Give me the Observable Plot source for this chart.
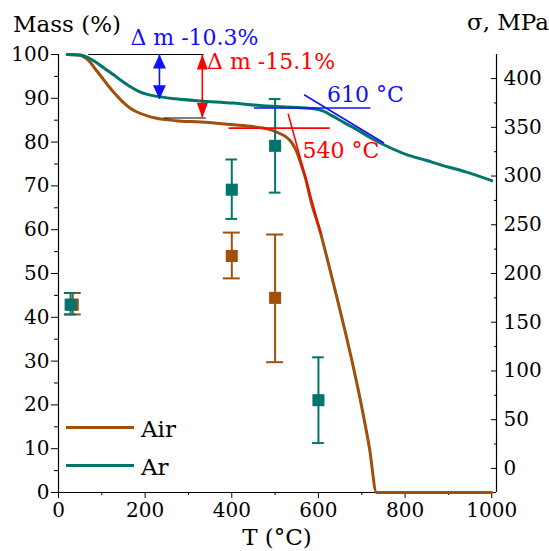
<!DOCTYPE html>
<html><head><meta charset="utf-8">
<script src="https://cdn.jsdelivr.net/npm/d3@7"></script>
<script src="https://cdn.jsdelivr.net/npm/@observablehq/plot@0.6"></script>
<style>
body{margin:0;background:#fff;}
#wrap{position:relative;width:549px;height:551px;font-family:"DejaVu Serif","Liberation Serif",serif;color:#000;}
.lab{position:absolute;line-height:1;white-space:nowrap;}
.sw{position:absolute;width:68px;height:3px;}
</style></head><body><div id="wrap"></div>
<script>
// ---- data ----
const airT    = [20, 45, 55, 70, 85, 100, 110, 128, 147, 165, 185, 205, 224, 270, 328, 390, 443, 490, 510, 525, 536, 548, 559, 570, 582, 605, 625, 644, 663, 682, 700, 718, 734, 1000];
const airMass = [100, 99.9, 99.6, 98.6, 96.7, 94.8, 93.5, 91.3, 89.3, 87.8, 86.7, 86.0, 85.5, 84.9, 84.6, 84.1, 83.6, 82.8, 82.0, 81.2, 80.2, 78.2, 75.2, 71.8, 66.8, 59.2, 51.5, 44.0, 36.2, 28.0, 19.5, 10.0, 0, 0];
const arT     = [20, 50, 70, 90, 108, 128, 147, 165, 185, 205, 224, 270, 328, 404, 436, 505, 550, 590, 613, 630, 660, 690, 720, 751, 805, 850, 882, 940, 1000];
const arMass  = [100, 99.9, 99.2, 98.0, 96.7, 95.3, 93.9, 92.7, 91.6, 90.9, 90.5, 89.9, 89.4, 88.9, 88.6, 88.1, 87.9, 87.6, 87.0, 86.1, 84.4, 82.8, 81.0, 79.4, 77.1, 75.8, 74.8, 73.2, 71.2];

// strength (sigma, MPa) with error bars
const airSigT  = [33, 400, 500];
const airSig   = [168, 218, 175];
const airSigLo = [158, 195, 109];
const airSigHi = [180, 242, 240];
const arSigT   = [28, 400, 500, 600];
const arSig    = [168, 286, 331, 70];
const arSigLo  = [158, 256, 283, 26];
const arSigHi  = [180, 317, 379, 114];

// tick values
const xMajor = [0, 200, 400, 600, 800, 1000];
const xMinor = [100, 300, 500, 700, 900];
const yMajor = [0, 10, 20, 30, 40, 50, 60, 70, 80, 90, 100];
const yMinor = [5, 15, 25, 35, 45, 55, 65, 75, 85, 95];
const sMajor = [0, 50, 100, 150, 200, 250, 300, 350, 400];
const sMinor = [25, 75, 125, 175, 225, 275, 325, 375];

// annotations (T, mass)
const blackLines = [{T1: 69, m1: 100, T2: 335, m2: 100}, {T1: 243, m1: 85.5, T2: 340, m2: 85.5}];
const redLines   = [{T1: 393, m1: 83.2, T2: 626, m2: 83.2}, {T1: 530, m1: 86.5, T2: 606, m2: 59.0}];
const blueLines  = [{T1: 451, m1: 87.8, T2: 720, m2: 87.8}, {T1: 567, m1: 90.8, T2: 751, m2: 79.8}];
const blueArrow  = {T: 233, top: 100, bottom: 89.8};
const redArrow   = {T: 332, top: 100, bottom: 85.5};
const blueTexts  = [{T: 166, m: 103.8, text: "Δ m -10.3%"}, {T: 620, m: 90.8, text: "610 °C"}];
const redTexts   = [{T: 343, m: 98.3, text: "Δ m -15.1%"}, {T: 563, m: 78.0, text: "540 °C"}];

// mapping between right axis (sigma) and left axis (mass)
const sigmaAt0 = 5.5, sigmaScale = 0.2225;
const toMass = s => sigmaAt0 + s * sigmaScale;
const fromMass = m => (m - sigmaAt0) / sigmaScale;

const airColor = "#a0500a", arColor = "#00766a", red = "#ff0000", blue = "#1010ff";
const xDomain = [0, 1011];
const FONT = "'DejaVu Serif', 'Liberation Serif', serif";

const airData = airT.map((T, i) => ({T, mass: airMass[i]}));
const arData = arT.map((T, i) => ({T, mass: arMass[i]}));
const airErr = airSigT.map((T, i) => ({T, s: airSig[i], lo: airSigLo[i], hi: airSigHi[i]}));
const arErr = arSigT.map((T, i) => ({T, s: arSig[i], lo: arSigLo[i], hi: arSigHi[i]}));

const triUp = {draw(ctx) { ctx.moveTo(0, 0); ctx.lineTo(6.5, 14); ctx.lineTo(-6.5, 14); ctx.closePath(); }};
const triDown = {draw(ctx) { ctx.moveTo(0, 0); ctx.lineTo(6.5, -14); ctx.lineTo(-6.5, -14); ctx.closePath(); }};
const triUpS = {draw(ctx) { ctx.moveTo(0, 0); ctx.lineTo(5.5, 15); ctx.lineTo(-5.5, 15); ctx.closePath(); }};
const triDownS = {draw(ctx) { ctx.moveTo(0, 0); ctx.lineTo(5.5, -15); ctx.lineTo(-5.5, -15); ctx.closePath(); }};

function errMarks(data, color, capT) {
  return [
    Plot.ruleX(data, {x: "T", y1: d => toMass(d.lo), y2: d => toMass(d.hi), stroke: color, strokeWidth: 2}),
    Plot.ruleY(data, {y: d => toMass(d.lo), x1: d => d.T - capT, x2: d => d.T + capT, stroke: color, strokeWidth: 2}),
    Plot.ruleY(data, {y: d => toMass(d.hi), x1: d => d.T - capT, x2: d => d.T + capT, stroke: color, strokeWidth: 2}),
    Plot.dot(data, {x: "T", y: d => toMass(d.s), symbol: "square", r: 6.8, fill: color, stroke: "none"})
  ];
}

const chart = Plot.plot({
  width: 549, height: 551,
  marginLeft: 58, marginRight: 53, marginTop: 54, marginBottom: 59,
  x: {domain: xDomain},
  y: {domain: [0, 100]},
  style: {fontFamily: FONT, fontSize: "20px", color: "#000", background: "transparent", overflow: "visible"},
  marks: [
    Plot.axisX(xMajor, {anchor: "bottom", tickSize: 6, tickPadding: 4, fontSize: 20, fontFamily: FONT, tickFormat: d => String(d), label: null}),
    Plot.axisX(xMinor, {anchor: "bottom", tickSize: 3, tickFormat: () => "", label: null}),
    Plot.axisY(yMajor, {anchor: "left", tickSize: 7, tickPadding: 2, fontSize: 20, fontFamily: FONT, tickFormat: d => String(d), label: null}),
    Plot.axisY(yMinor, {anchor: "left", tickSize: 4, tickFormat: () => "", label: null}),
    Plot.axisY(sMajor.map(toMass), {anchor: "right", tickSize: 0, tickPadding: 7, fontSize: 20, fontFamily: FONT, tickFormat: m => String(Math.round(fromMass(m))), label: null}),
    Plot.axisY(sMajor.map(toMass), {anchor: "right", tickSize: -6, tickFormat: () => "", label: null}),
    Plot.axisY(sMinor.map(toMass), {anchor: "right", tickSize: -3, tickFormat: () => "", label: null}),
    Plot.ruleX([xDomain[0], xDomain[1]], {stroke: "#000", strokeWidth: 1.2}),
    Plot.ruleY([0], {stroke: "#000", strokeWidth: 1.2}),
    Plot.line(airData, {x: "T", y: "mass", stroke: airColor, strokeWidth: 3, curve: "monotone-x"}),
    Plot.line(arData, {x: "T", y: "mass", stroke: arColor, strokeWidth: 3, curve: "monotone-x"}),
    ...errMarks(airErr, airColor, 19.5),
    ...errMarks(arErr, arColor, 13.5),
    Plot.link(blackLines, {x1: "T1", y1: "m1", x2: "T2", y2: "m2", stroke: "#000", strokeWidth: 1}),
    Plot.link(redLines, {x1: "T1", y1: "m1", x2: "T2", y2: "m2", stroke: red, strokeWidth: 1.6}),
    Plot.link(blueLines, {x1: "T1", y1: "m1", x2: "T2", y2: "m2", stroke: blue, strokeWidth: 1.6}),
    Plot.ruleX([blueArrow], {x: "T", y1: "top", y2: "bottom", stroke: blue, strokeWidth: 1.6}),
    Plot.dot([blueArrow], {x: "T", y: "top", symbol: triUp, fill: blue, stroke: "none"}),
    Plot.dot([blueArrow], {x: "T", y: "bottom", symbol: triDown, fill: blue, stroke: "none"}),
    Plot.ruleX([redArrow], {x: "T", y1: "top", y2: "bottom", stroke: red, strokeWidth: 1.6}),
    Plot.dot([redArrow], {x: "T", y: "top", symbol: triUpS, fill: red, stroke: "none"}),
    Plot.dot([redArrow], {x: "T", y: "bottom", symbol: triDownS, fill: red, stroke: "none"}),
    Plot.text(blueTexts, {x: "T", y: "m", text: "text", fill: blue, textAnchor: "start", lineAnchor: "middle", fontSize: 22, fontFamily: FONT}),
    Plot.text(redTexts, {x: "T", y: "m", text: "text", fill: red, textAnchor: "start", lineAnchor: "middle", fontSize: 22, fontFamily: FONT})
  ]
});

const wrap = document.getElementById("wrap");
wrap.appendChild(chart);
function lab(text, left, top, size, extra) {
  const d = document.createElement("div");
  d.className = "lab";
  d.textContent = text;
  d.style.left = left + "px"; d.style.top = top + "px"; d.style.fontSize = size + "px";
  if (extra) Object.assign(d.style, extra);
  wrap.appendChild(d);
}
function sw(color, left, top) {
  const d = document.createElement("div");
  d.className = "sw"; d.style.background = color; d.style.left = left + "px"; d.style.top = top + "px";
  wrap.appendChild(d);
}
lab("Mass (%)", 13, 12.5, 23);
lab("σ, MPa", 467, 10.5, 23);
lab("T (°C)", 277, 525.5, 23, {transform: "translateX(-50%)"});
sw(airColor, 66, 425.5);
sw(arColor, 66, 463.5);
lab("Air", 141, 417.5, 23);
lab("Ar", 141, 455.5, 23);
</script></body></html>
